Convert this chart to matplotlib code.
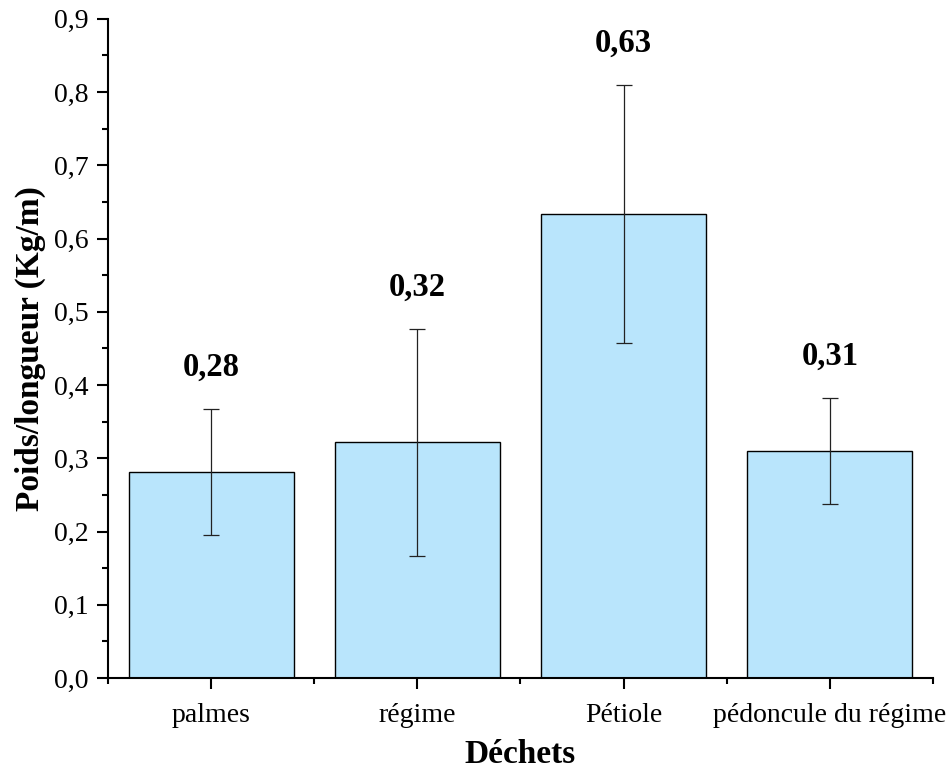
import matplotlib
matplotlib.use("Agg")
import matplotlib.pyplot as plt
from matplotlib.ticker import MultipleLocator, FixedLocator, FuncFormatter
import numpy as np

# data
categories = ["palmes", "régime", "Pétiole", "pédoncule du régime"]
values = [0.281, 0.322, 0.634, 0.310]
errors = [0.086, 0.155, 0.176, 0.072]
value_labels = ["0,28", "0,32", "0,63", "0,31"]

plt.rcParams['font.family'] = ['Liberation Serif', 'DejaVu Serif']

fig = plt.figure(figsize=(9.52, 7.8), dpi=100)
ax = fig.add_axes([0.1134, 0.1308, 0.8666, 0.845])

x = np.arange(len(categories))
ax.bar(x, values, width=0.8, color='#B9E5FC', edgecolor='black', linewidth=1.0, zorder=2)
ax.errorbar(x, values, yerr=errors, fmt='none', ecolor='#222222', elinewidth=0.9,
            capsize=6, capthick=0.9, zorder=3)

for xi, v, e, lab in zip(x, values, errors, value_labels):
    ax.annotate(lab, xy=(xi, v + e), xytext=(0, 24), textcoords='offset points',
                ha='center', va='baseline', fontsize=23.5, fontweight='bold')

ax.set_xlim(-0.5, 3.5)
ax.set_ylim(0, 0.9)

ax.set_xticks(x)
ax.set_xticklabels(categories, fontsize=20)
ax.xaxis.set_minor_locator(FixedLocator(np.arange(-0.5, 4.0, 1.0)))

ax.yaxis.set_major_locator(MultipleLocator(0.1))
ax.yaxis.set_minor_locator(MultipleLocator(0.05))
ax.yaxis.set_major_formatter(FuncFormatter(lambda v, p: f"{v:.1f}".replace('.', ',')))
ax.tick_params(axis='y', labelsize=20)

ax.tick_params(which='major', direction='out', length=8, width=1.5)
ax.tick_params(which='minor', direction='out', length=4, width=1.5)
ax.tick_params(axis='y', which='major', pad=6)
ax.tick_params(axis='x', which='major', pad=10)

for side in ['top', 'right']:
    ax.spines[side].set_visible(False)
for side in ['left', 'bottom']:
    ax.spines[side].set_linewidth(1.5)

ax.set_xlabel("Déchets", fontsize=24, fontweight='bold', labelpad=8)
ax.set_ylabel("Poids/longueur (Kg/m)", fontsize=24, fontweight='bold', labelpad=6)

fig.savefig("out.png", dpi=100)
